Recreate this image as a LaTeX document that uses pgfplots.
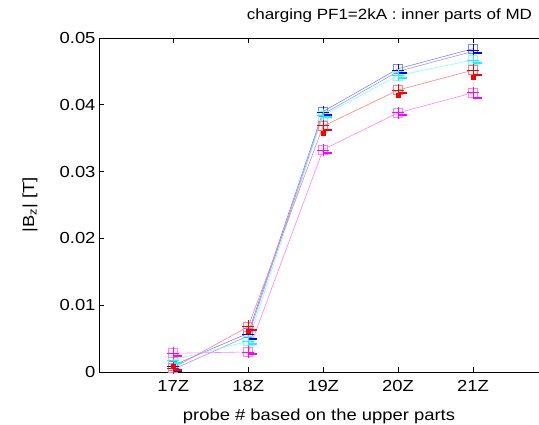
\documentclass[border=0pt]{standalone}
\usepackage{pgfplots}
\pgfplotsset{compat=1.18}
\usepackage{fontspec}
\setmainfont{Liberation Sans}[FakeStretch=1.15]
\definecolor{lblue}{RGB}{128,128,255}
\definecolor{lblue2}{RGB}{150,150,255}
\definecolor{lcyan}{RGB}{128,255,255}
\definecolor{lred}{RGB}{255,128,128}
\definecolor{lmag}{RGB}{255,128,255}
\definecolor{dblue}{RGB}{0,0,255}
\definecolor{dcyan}{RGB}{0,255,255}
\definecolor{dred}{RGB}{255,0,0}
\definecolor{dmag}{RGB}{255,0,255}
\begin{document}
\begin{tikzpicture}
\begin{axis}[name=ax, scale only axis, width=440bp, height=334bp,
  xmin=16.01, xmax=21.88, ymin=0, ymax=0.05,
  axis y line*=left, axis x line*=box,
  xtick={17,18,19,20,21}, xticklabels={17Z,18Z,19Z,20Z,21Z},
  ytick={0,0.01,0.02,0.03,0.04,0.05},
  scaled y ticks=false,
  /pgf/number format/assume math mode=true,
  y tick label style={/pgf/number format/fixed, /pgf/number format/precision=2},
  x tick label style={yshift=-5bp},
  tick align=inside, major tick length=5bp, tick style={black, line width=0.6pt},
  axis line style={black, line width=0.6pt},
  ticklabel style={font=\fontsize{16bp}{18bp}\selectfont},
  xlabel={probe \# based on the upper parts},
  ylabel={|B\textsubscript{z}| [T]},
  label style={font=\fontsize{16bp}{18bp}\selectfont},
  xlabel style={at={(axis description cs:0.5,0)}, anchor=center, yshift=-44bp},
  ylabel style={at={(axis description cs:-0.157,0.5)}, anchor=center},
  title={charging PF1=2kA : inner parts of MD},
  title style={at={(axis description cs:0.66,1)}, anchor=center, yshift=16bp, font=\fontsize{14.8bp}{17bp}\selectfont},
  clip=false,
]
% blue
\addplot[lblue, line width=0.6pt, mark=square, mark size=4.5bp, mark options={lblue}] coordinates {(17,0.0010) (18,0.0058) (19,0.0390) (20,0.0454) (21,0.0484)};
\addplot[lblue2, line width=0.6pt] coordinates {(17,0.0004) (18,0.0054) (19,0.0386) (20,0.0450) (21,0.0480)};
% cyan
\addplot[lcyan, line width=0.6pt, mark=square, mark size=4.5bp, mark options={lcyan}] coordinates {(17,0.0018) (18,0.0046) (19,0.0384) (20,0.0444) (21,0.0467)};
% red
\addplot[lred, line width=0.6pt, mark=square, mark size=4.5bp, mark options={lred}] coordinates {(17,0.0006) (18,0.0068) (19,0.0368) (20,0.0422) (21,0.0452)};
% magenta
\addplot[lmag, line width=0.6pt, mark=square, mark size=4.5bp, mark options={lmag}] coordinates {(17,0.0028) (18,0.0030) (19,0.0333) (20,0.0388) (21,0.0418)};
% dark plus markers
\addplot[only marks, dblue, mark=+, mark size=6bp, line width=0.8pt] coordinates {(17,0.0008) (18,0.0056) (19,0.0389) (20,0.0452) (21,0.0482)};
\addplot[only marks, dcyan, mark=+, mark size=6bp, line width=0.8pt] coordinates {(17,0.0018) (18,0.0046) (19,0.0384) (20,0.0444) (21,0.0466)};
\addplot[only marks, dred, mark=+, mark size=6bp, line width=0.8pt] coordinates {(17,0.0006) (18,0.0069) (19,0.0369) (20,0.0422) (21,0.0452)};
\addplot[only marks, dmag, mark=+, mark size=6bp, line width=0.8pt] coordinates {(17,0.0028) (18,0.0030) (19,0.0332) (20,0.0388) (21,0.0418)};
% dark dashes
\addplot[only marks, dblue, mark=-, mark size=4bp, line width=2pt] coordinates {(17.06,0.0002) (18.06,0.0050) (19.06,0.0384) (20.06,0.0448) (21.06,0.0477)};
\addplot[only marks, dcyan, mark=-, mark size=4bp, line width=2pt] coordinates {(17.06,0.0014) (18.06,0.0042) (19.06,0.0381) (20.06,0.0440) (21.06,0.0462)};
\addplot[only marks, dred, mark=-, mark size=4bp, line width=2pt] coordinates {(17.06,0.0003) (18.06,0.0063) (19.06,0.0362) (20.06,0.0418) (21.06,0.0445)};
\addplot[only marks, dmag, mark=-, mark size=4bp, line width=2pt] coordinates {(17.06,0.0024) (18.06,0.0027) (19.06,0.0328) (20.06,0.0385) (21.06,0.0410)};
\addplot[only marks, dred, mark=square*, mark size=2bp] coordinates {(17,0.0008) (18,0.0061) (19,0.0358) (20,0.0415) (21,0.0441)};
\end{axis}
\pgfresetboundingbox
\path[use as bounding box] ([xshift=-99bp,yshift=-53bp]ax.south west) rectangle ([yshift=38bp]ax.north east);
\end{tikzpicture}
\end{document}
